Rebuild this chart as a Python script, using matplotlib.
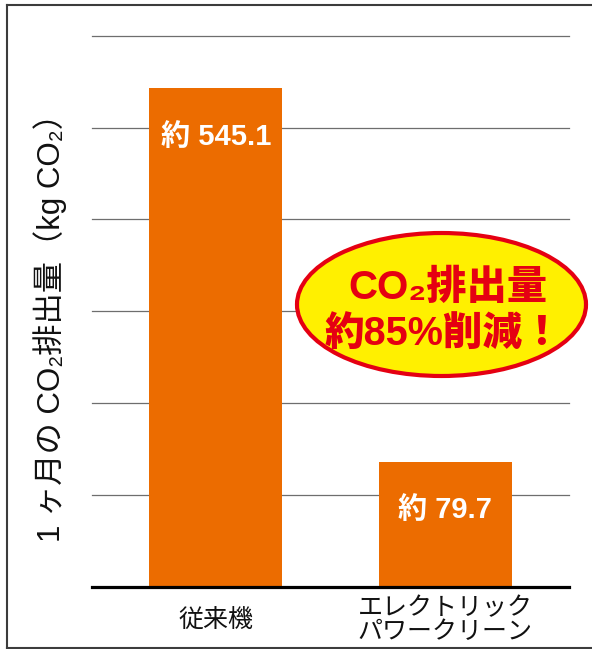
import matplotlib
matplotlib.use('Agg')
from matplotlib import pyplot as plt
from matplotlib.lines import Line2D
from matplotlib.patches import Ellipse

# Litery łacińskie w stylu Arial, znaki japońskie z Noto CJK.
plt.rcParams['font.family'] = ['Liberation Sans', 'Noto Sans CJK JP', 'DejaVu Sans']

# Dane wykresu.
categories = ['従来機', 'エレクトリック\nパワークリーン']
co2_labels = ['約 545.1', '約 79.7']
# wysokości słupków tak jak na rysunku (mały słupek nie jest w skali)
bar_heights = [543, 136]
grid_levels = [100, 200, 300, 400, 500, 600]
ylabel = '1 ヶ月の CO₂排出量（kg CO₂）'
badge_lines = ['CO₂排出量', '約85%削減！']

orange = '#ec6c00'
red = '#e50012'
yellow = '#fff000'

fig = plt.figure(figsize=(5.92, 6.49), dpi=100)
ax = fig.add_axes([92 / 592, 62.3 / 649, 477 / 592, 551 / 649])

x = list(range(len(categories)))
for lvl in grid_levels:
    ax.axhline(lvl, color='#6e6e6e', lw=0.9, zorder=1, clip_on=False)
ax.bar(x, bar_heights, width=0.58, color=orange, zorder=2)

for xi, h, lab in zip(x, bar_heights, co2_labels):
    ax.annotate(lab, (xi, h), xytext=(0, -35), textcoords='offset points',
                ha='center', va='center', color='white', fontsize=21,
                fontweight='bold', zorder=3)

for xi, cat in zip(x, categories):
    ax.text(xi, -33 / 551, cat, transform=ax.get_xaxis_transform(),
            ha='center', va='center', fontsize=18, linespacing=1.0,
            color='#111111')

ax.set_xlim(-0.54, 1.54)
ax.set_ylim(0, 600)
ax.set_xticks([])
ax.set_yticks([])
for side in ['top', 'right', 'left']:
    ax.spines[side].set_visible(False)
ax.spines['bottom'].set_linewidth(2.3)
ax.spines['bottom'].set_color('black')
ax.spines['bottom'].set_zorder(4)

# Podpis osi Y.
fig.text(50 / 592, 1 - 320 / 649, ylabel, rotation=90, ha='center',
         va='center', fontsize=22.5, color='#111111')

# Ramka wokół rysunku (prawa krawędź ucięta).
frame_kw = dict(color='#3c3c3c', lw=1.5, transform=fig.transFigure)
fig.add_artist(Line2D([6.7 / 592, 6.7 / 592], [1 - 4.7 / 649, 1 - 647.5 / 649], **frame_kw))
fig.add_artist(Line2D([6.7 / 592, 1], [1 - 4.7 / 649, 1 - 4.7 / 649], **frame_kw))
fig.add_artist(Line2D([6.7 / 592, 1], [1 - 647.5 / 649, 1 - 647.5 / 649], **frame_kw))

# Owal z komunikatem.
badge = Ellipse((441.5 / 592, 1 - 304.5 / 649), 289 / 592, 143 / 649,
                transform=fig.transFigure, facecolor=yellow, edgecolor=red,
                lw=3, zorder=5)
fig.add_artist(badge)
fig.text(448 / 592, 1 - 288 / 649, badge_lines[0], ha='center', va='center',
         fontsize=29, fontweight='heavy', color=red, zorder=6)
fig.text(443 / 592, 1 - 334 / 649, badge_lines[1], ha='center', va='center',
         fontsize=28.5, fontweight='heavy', color=red, zorder=6)

fig.savefig('out.png', dpi=100)
